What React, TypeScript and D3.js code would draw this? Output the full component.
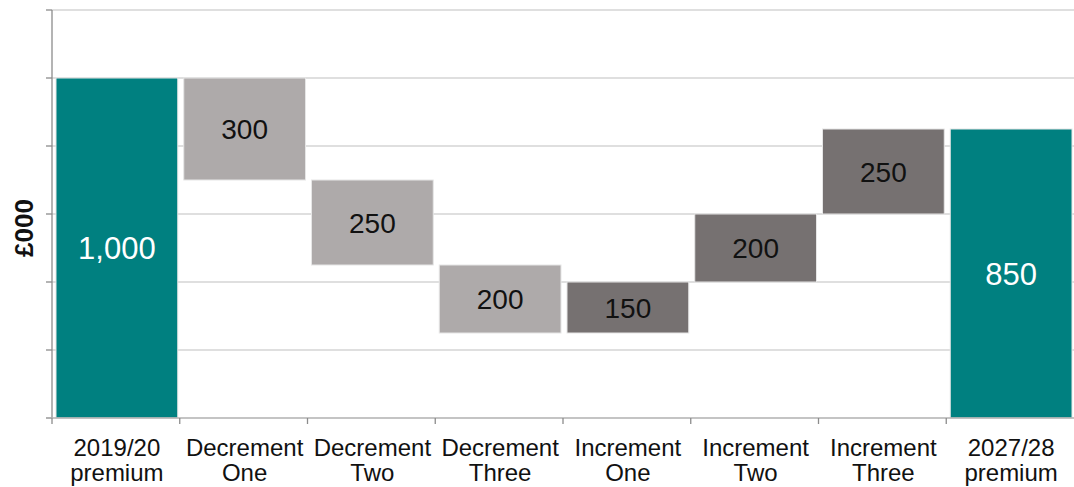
import React from "react";
import * as d3 from "d3";

const categories: string[][] = [
  ["2019/20", "premium"],
  ["Decrement", "One"],
  ["Decrement", "Two"],
  ["Decrement", "Three"],
  ["Increment", "One"],
  ["Increment", "Two"],
  ["Increment", "Three"],
  ["2027/28", "premium"],
];
const changes: number[] = [1000, -300, -250, -200, 150, 200, 250, 850];
const kinds: string[] = ["total", "dec", "dec", "dec", "inc", "inc", "inc", "total"];
const labels: string[] = ["1,000", "300", "250", "200", "150", "200", "250", "850"];
const yTicks: number[] = [0, 200, 400, 600, 800, 1000, 1200];

const W = 1074;
const H = 487;
const left = 52;
const right = 1074;
const top = 10;
const bottom = 418;

const colors: Record<string, string> = {
  total: "#008080",
  dec: "#AEAAAA",
  inc: "#767171",
};
const labelColors: Record<string, string> = {
  total: "#ffffff",
  dec: "#111111",
  inc: "#111111",
};

export default function App() {
  const x = d3
    .scaleBand<number>()
    .domain(categories.map((_, i) => i))
    .range([left, right])
    .padding(0);
  const y = d3.scaleLinear().domain([0, 1200]).range([bottom, top]);

  let running = 0;
  const bars = changes.map((v, i) => {
    let y0: number, y1: number;
    if (kinds[i] === "total") {
      y0 = 0;
      y1 = v;
      running = v;
    } else {
      y0 = running;
      y1 = running + v;
      running = y1;
    }
    return { i, lo: Math.min(y0, y1), hi: Math.max(y0, y1), kind: kinds[i] };
  });

  const font = "'Liberation Sans', Arial, sans-serif";
  const bw = x.bandwidth();

  return (
    <svg
      width={W}
      height={H}
      style={{ position: "absolute", left: 0, top: 0, display: "block" }}
      fontFamily={font}
    >
      <rect width={W} height={H} fill="#ffffff" />
      {yTicks.slice(1).map((t) => (
        <line
          key={"g" + t}
          x1={left}
          x2={right}
          y1={y(t)}
          y2={y(t)}
          stroke="#d4d4d4"
          strokeWidth={1.3}
        />
      ))}
      {bars.map((b) => (
        <rect
          key={"b" + b.i}
          x={(x(b.i) as number) + 4}
          y={y(b.hi)}
          width={bw - 6}
          height={y(b.lo) - y(b.hi)}
          fill={colors[b.kind]}
          stroke="#e6e6e6"
          strokeWidth={1}
        />
      ))}
      {bars.map((b) => (
        <text
          key={"l" + b.i}
          x={(x(b.i) as number) + 4 + (bw - 6) / 2}
          y={(y(b.hi) + y(b.lo)) / 2}
          dy="0.36em"
          textAnchor="middle"
          fontSize={b.kind === "total" ? 31 : 28}
          fill={labelColors[b.kind]}
        >
          {labels[b.i]}
        </text>
      ))}
      {/* y axis */}
      <line x1={left} x2={left} y1={top} y2={bottom} stroke="#8c8c8c" strokeWidth={1.3} />
      {yTicks.map((t) => (
        <line
          key={"yt" + t}
          x1={left - 6}
          x2={left}
          y1={y(t)}
          y2={y(t)}
          stroke="#8c8c8c"
          strokeWidth={1.3}
        />
      ))}
      {/* x axis */}
      <line x1={left - 6} x2={right} y1={bottom} y2={bottom} stroke="#b0b0b0" strokeWidth={1.3} />
      {categories.map((_, i) => (
        <line
          key={"xt" + i}
          x1={x(i) as number}
          x2={x(i) as number}
          y1={bottom}
          y2={bottom + 6}
          stroke="#8c8c8c"
          strokeWidth={1.3}
        />
      ))}
      {categories.map((c, i) => (
        <text
          key={"c" + i}
          x={(x(i) as number) + bw / 2 + 1}
          y={456}
          textAnchor="middle"
          fontSize={24}
          fill="#111111"
        >
          <tspan x={(x(i) as number) + bw / 2 + 1} y={456}>
            {c[0]}
          </tspan>
          <tspan x={(x(i) as number) + bw / 2 + 1} y={481}>
            {c[1]}
          </tspan>
        </text>
      ))}
      <text
        transform="translate(33,228) rotate(-90)"
        textAnchor="middle"
        fontSize={26}
        fontWeight="bold"
        fill="#111111"
      >
        £000
      </text>
    </svg>
  );
}
